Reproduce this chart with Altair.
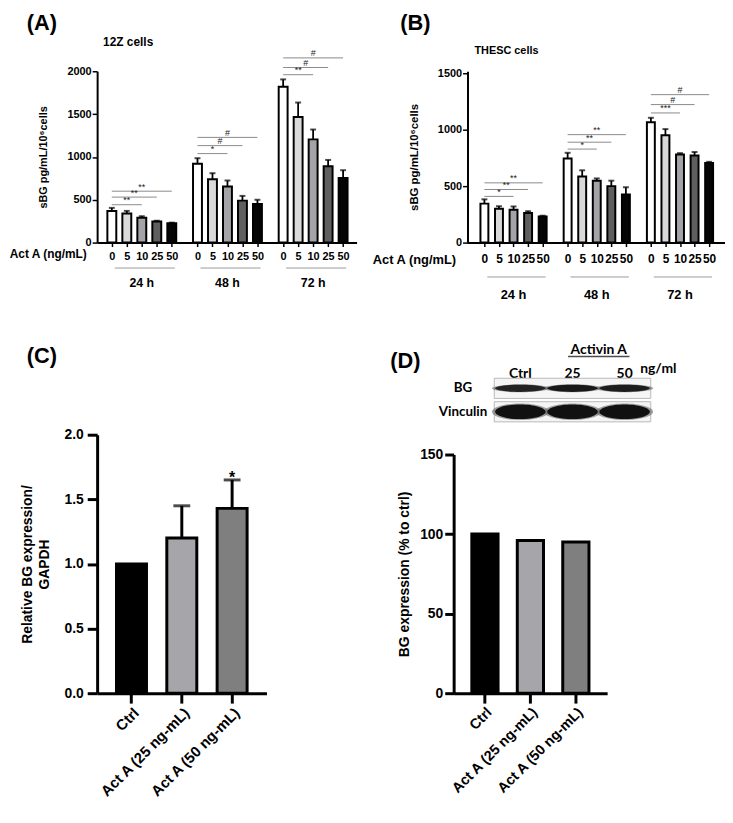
import altair as alt
import pandas as pd

# ---------------- values ----------------
doses = ["0", "5", "10", "25", "50"]
times = ["24 h", "48 h", "72 h"]
dose_fills = ["#ffffff", "#d9d9d9", "#a4a4a8", "#5f5f5f", "#050505"]

# (A) 12Z cells, sBG pg/mL/10^6 cells, 24 h / 48 h / 72 h x 5 doses
z12_mean = [370, 340, 290, 245, 225, 920, 740, 655, 490, 450, 1820, 1465, 1205, 890, 755]
z12_err = [35, 30, 18, 10, 8, 65, 70, 70, 55, 50, 85, 170, 115, 75, 90]
z12_sig_time = ["24 h"] * 3 + ["48 h"] * 3 + ["72 h"] * 3
z12_sig_to = ["10", "25", "50"] * 3
z12_sig_level = [442, 531, 600, 1039, 1132, 1228, 1960, 2044, 2156]
z12_sig_mark = ["**", "**", "**", "*", "#", "#", "**", "#", "#"]

# (B) THESC cells
thesc_mean = [345, 300, 290, 263, 232, 745, 585, 548, 500, 425, 1065, 950, 780, 772, 705]
thesc_err = [38, 22, 30, 15, 6, 50, 55, 20, 48, 65, 40, 55, 12, 30, 10]
thesc_sig_time = ["24 h"] * 3 + ["48 h"] * 3 + ["72 h"] * 3
thesc_sig_to = ["10", "25", "50"] * 3
thesc_sig_level = [409, 470, 529, 828, 889, 956, 1148, 1222, 1310]
thesc_sig_mark = ["*", "**", "**", "*", "**", "**", "***", "#", "#"]

# (C) relative BG expression / GAPDH
groups = ["Ctrl", "Act A (25 ng-mL)", "Act A (50 ng-mL)"]
group_fills = ["#000000", "#a6a6aa", "#7f7f7f"]
c_mean = [1.0, 1.2, 1.43]
c_err = [0.0, 0.25, 0.22]
c_sig = ["", "", "*"]

# (D) BG expression, % to ctrl
d_mean = [100, 96, 95]

# western blot (D, top)
lanes = ["Ctrl", "25", "50"]
proteins = ["BG", "Vinculin"]
blot_bg = [0.88, 0.95, 0.92]
blot_vinculin = [1.0, 1.0, 1.0]

FONT = "Liberation Sans"
BLOT_FONT = "Lato"
GAP = 5.715  # distance between time groups, in bar steps


def note(text, x, y, size, align="left", baseline="alphabetic", font=FONT):
    return alt.Chart(pd.DataFrame({"label": [text]})).mark_text(
        font=font, fontSize=size, fontWeight="bold", align=align,
        baseline=baseline, color="black",
    ).encode(text="label:N", x=alt.value(x), y=alt.value(y))


def time_panel(mean, err, sig_time, sig_to, sig_level, sig_mark, width, height, shift,
               xdom, ydom, yvals, bar_size, fs, pads, cells, letter):
    pos = {(t, d): round(g * GAP + i, 3)
           for g, t in enumerate(times) for i, d in enumerate(doses)}
    bars = pd.DataFrame({
        "time": [t for t in times for d in doses],
        "dose": [d for t in times for d in doses],
        "mean": mean,
        "err": err,
    })
    bars["pos"] = [pos[(t, d)] for t, d in zip(bars.time, bars.dose)]
    bars["hi"] = bars["mean"] + bars["err"]

    sig = pd.DataFrame({"time": sig_time, "to": sig_to, "level": sig_level, "mark": sig_mark})
    sig["x0"] = [pos[(t, "0")] for t in sig.time]
    sig["x1"] = [pos[(t, d)] for t, d in zip(sig.time, sig.to)]
    sig["xm"] = (sig.x0 + sig.x1) / 2

    grp = pd.DataFrame({"time": times})
    grp["x0"] = [pos[(t, "0")] + 0.2 for t in times]
    grp["x1"] = [pos[(t, "50")] + 0.2 for t in times]
    grp["xm"] = [pos[(t, "10")] for t in times]

    ticks = list(bars.pos)
    xaxis = alt.Axis(
        values=ticks, labelExpr=f"{doses * 3}[indexof({ticks}, datum.value)]",
        labelOverlap=False, labelFlush=False, labelFontSize=fs["dose"],
        labelBaseline="middle", labelPadding=pads["dose"],
        tickSize=4, tickWidth=1.5, domainWidth=2,
        title="Act A (ng/mL)", titleFontSize=fs["act"], titleAlign="right",
        titleBaseline="middle", titleX=pads["act_x"] + shift, titleY=pads["act_y"],
    )
    yaxis = alt.Axis(
        values=yvals, format="d", labelFontSize=fs["ylab"], labelPadding=1, tickSize=5,
        tickWidth=1.5, domainWidth=2, title="sBG pg/mL/10⁶cells", offset=-shift,
        titleFontSize=fs["ytitle"], titlePadding=pads["ytitle"],
    )
    xs = alt.Scale(domain=xdom, nice=False, zero=False, range=[shift, shift + width])
    ys = alt.Scale(domain=ydom, nice=False)

    def X(f):
        return alt.X(f, scale=xs, axis=xaxis)

    def Y(f):
        return alt.Y(f, scale=ys, axis=yaxis)

    base = alt.Chart(bars)
    err_line = base.mark_rule(color="black", strokeWidth=1.8).encode(
        x=X("pos:Q"), y=Y("mean:Q"), y2="hi:Q")
    err_cap = base.mark_tick(orient="horizontal", size=6, thickness=2, color="black").encode(
        x=X("pos:Q"), y=Y("hi:Q"))
    bar = base.mark_bar(orient="vertical", size=bar_size, stroke="black", strokeWidth=2).encode(
        x=X("pos:Q"), y=Y("mean:Q"),
        fill=alt.Fill("dose:N", scale=alt.Scale(domain=doses, range=dose_fills), legend=None))
    sig_line = alt.Chart(sig).mark_rule(color="#8a8a8a", strokeWidth=1).encode(
        x=X("x0:Q"), x2="x1:Q", y=Y("level:Q"))
    sig_text = alt.Chart(sig).mark_text(
        font=FONT, fontSize=fs["sig"], color="#222222", baseline="alphabetic", dy=-1.5
    ).encode(x=X("xm:Q"), y=Y("level:Q"), text="mark:N")
    grp_line = alt.Chart(grp).mark_rule(color="#9a9a9a", strokeWidth=1).encode(
        x=X("x0:Q"), x2="x1:Q", y=alt.value(height + pads["grp_line"]))
    grp_text = alt.Chart(grp).mark_text(
        font=FONT, fontSize=fs["grp"], fontWeight="bold", baseline="middle", color="black"
    ).encode(x=X("xm:Q"), y=alt.value(height + pads["grp_text"]), text="time:N")

    return alt.layer(
        err_line, err_cap, bar, sig_line, sig_text, grp_line, grp_text,
        note(letter[0], letter[1] + shift, letter[2], 22),
        note(cells[0], cells[1] + shift, cells[2], cells[3], baseline="middle"),
    ).properties(width=width + shift, height=height)


panel_a = time_panel(
    z12_mean, z12_err, z12_sig_time, z12_sig_to, z12_sig_level, z12_sig_mark,
    width=262, height=173, shift=0, xdom=[-0.65, 16.0], ydom=[0, 2000],
    yvals=[0, 500, 1000, 1500, 2000], bar_size=9,
    fs=dict(ylab=11, ytitle=11, dose=11, act=12, grp=12.5, sig=9),
    pads=dict(dose=10.5, act_x=-11, act_y=10.7, grp_line=25.7, grp_text=40.7, ytitle=19),
    cells=("12Z cells", 6, -30, 12), letter=("(A)", -71, -42),
)

# (B) sits in the same grid column as (D), whose axis is further left
panel_b = time_panel(
    thesc_mean, thesc_err, thesc_sig_time, thesc_sig_to, thesc_sig_level, thesc_sig_mark,
    width=260, height=173, shift=14, xdom=[-0.82, 16.18], ydom=[0, 1517],
    yvals=[0, 500, 1000, 1500], bar_size=8,
    fs=dict(ylab=11, ytitle=11.5, dose=12, act=13, grp=13, sig=9),
    pads=dict(dose=12.3, act_x=-12, act_y=17.3, grp_line=34.7, grp_text=53.3, ytitle=18),
    cells=("THESC cells", 7, -20, 11), letter=("(B)", -68, -41.5),
)


# ---------------- (C) ----------------
def group_axis(size):
    return alt.Axis(labelAngle=-45, labelFontSize=size, tickSize=10, tickWidth=3,
                    domainWidth=3, labelPadding=2, title=None)


cdf = pd.DataFrame({"group": groups, "mean": c_mean, "err": c_err, "sig": c_sig})
cdf["hi"] = cdf["mean"] + cdf["err"]

xc = alt.X("group:N", sort=groups, scale=alt.Scale(paddingInner=0.404, paddingOuter=0.385),
           axis=group_axis(15))
ycs = alt.Scale(domain=[0, 2], nice=False)
yca = alt.Axis(values=[0, 0.5, 1, 1.5, 2], format=".1f", labelFontSize=14, tickSize=10,
               tickWidth=3, domainWidth=3, labelPadding=4,
               title=["Relative BG expression/", "GAPDH"], titleFontSize=14,
               titleLineHeight=17, titlePadding=13)

cbase = alt.Chart(cdf)
c_err_line = cbase.transform_filter("datum.err > 0").mark_rule(color="black", strokeWidth=3).encode(
    x=xc, y=alt.Y("mean:Q", scale=ycs, axis=yca), y2="hi:Q")
c_err_cap = cbase.transform_filter("datum.err > 0").mark_tick(
    orient="horizontal", size=17, thickness=3, color="black").encode(
    x=xc, y=alt.Y("hi:Q", scale=ycs, axis=yca))
c_bar = cbase.mark_bar(stroke="black", strokeWidth=3).encode(
    x=xc, y=alt.Y("mean:Q", scale=ycs, axis=yca),
    fill=alt.Fill("group:N", scale=alt.Scale(domain=groups, range=group_fills), legend=None))
c_star = cbase.mark_text(font=FONT, fontSize=16, fontWeight="bold", baseline="alphabetic",
                         dy=3, color="black").encode(
    x=xc, y=alt.Y("hi:Q", scale=ycs, axis=yca), text="sig:N")

panel_c = alt.layer(c_err_line, c_err_cap, c_bar, c_star, note("(C)", -71, -72, 22)).properties(
    width=171, height=261)

# ---------------- (D) ----------------
ddf = pd.DataFrame({"group": groups, "mean": d_mean})
xd = alt.X("group:N", sort=groups, scale=alt.Scale(paddingInner=0.423, paddingOuter=0.4),
           axis=group_axis(14.5))
yd = alt.Y("mean:Q", scale=alt.Scale(domain=[0, 150], nice=False, range=[261, 20]),
           axis=alt.Axis(values=[0, 50, 100, 150], labelFontSize=14, tickSize=9, tickWidth=3,
                         domainWidth=3, labelPadding=2, title="BG expression (% to ctrl)",
                         titleFontSize=14, titlePadding=8))
d_bar = alt.Chart(ddf).mark_bar(stroke="black", strokeWidth=3).encode(
    x=xd, y=yd,
    fill=alt.Fill("group:N", scale=alt.Scale(domain=groups, range=group_fills), legend=None))
d_bars = alt.layer(d_bar, note("(D)", -64, -67, 22))

# western blot above (D)
blot_y = alt.Scale(domain=proteins, range=[-57, -13], paddingInner=0.14, paddingOuter=0)
blot_axis = alt.Axis(orient="left", title=None, ticks=False, domain=False, offset=-41,
                     labelPadding=32, labelAlign="center", labelBaseline="middle",
                     labelFont=BLOT_FONT, labelFontSize=13.5, labelFontWeight="bold")
lane_x = alt.Scale(domain=lanes, range=[41, 199], paddingInner=0, paddingOuter=0)
lane_axis = alt.Axis(orient="top", title=None, ticks=False, domain=False, offset=54,
                     labelPadding=1, labelAngle=0, labelFont=BLOT_FONT, labelFontSize=14,
                     labelFontWeight="bold")
by = alt.Y("protein:N", sort=proteins, scale=blot_y, axis=blot_axis)

frame = alt.Chart(pd.DataFrame({"membrane": ["blot", "blot"], "protein": proteins})).mark_rect(
    fill="#f5f5f5", stroke="#b8b8b8", strokeWidth=1).encode(
    x=alt.X("membrane:N", scale=alt.Scale(range=[41, 199], paddingInner=0, paddingOuter=0),
            axis=None),
    y=by)

bands = pd.DataFrame({
    "lane": lanes * 2,
    "protein": ["BG"] * 3 + ["Vinculin"] * 3,
    "intensity": blot_bg + blot_vinculin,
})
band_shape = alt.Shape("protein:N", legend=None, scale=alt.Scale(
    domain=proteins,
    range=["M-1,0 A1,0.14 0 1,1 1,0 A1,0.14 0 1,1 -1,0 Z",
           "M-1,0 A1,0.29 0 1,1 1,0 A1,0.29 0 1,1 -1,0 Z"]))
bx = alt.X("lane:N", sort=lanes, scale=lane_x, axis=lane_axis)

halo = alt.Chart(bands).mark_point(filled=True, size=3300, color="#5a5a5a", opacity=0.55).encode(
    x=bx, y=by, shape=band_shape)
core = alt.Chart(bands).mark_point(filled=True, size=2600, color="#111111").encode(
    x=bx, y=by, shape=band_shape, opacity=alt.Opacity("intensity:Q", scale=None, legend=None))
activin = alt.Chart(pd.DataFrame({"label": ["Activin A"]})).mark_text(
    font=BLOT_FONT, fontSize=14, fontWeight="bold", baseline="alphabetic", dx=26.5).encode(
    x=alt.X(datum="25", scale=lane_x, axis=lane_axis), y=alt.value(-82), text="label:N")
underline = alt.Chart(pd.DataFrame({"label": ["Activin A"]})).mark_tick(
    orient="horizontal", size=62, thickness=1.5, color="black", xOffset=26.5).encode(
    x=alt.X(datum="25", scale=lane_x, axis=lane_axis), y=alt.value(-79))
ngml = alt.Chart(pd.DataFrame({"label": ["ng/ml"]})).mark_text(
    font=BLOT_FONT, fontSize=14, fontWeight="bold", baseline="alphabetic", dx=34).encode(
    x=alt.X(datum="50", scale=lane_x, axis=lane_axis), y=alt.value(-62), text="label:N")

lane_layer = alt.layer(halo, core, activin, underline, ngml)
blot = alt.layer(frame, lane_layer).resolve_scale(x="independent")

panel_d = alt.layer(d_bars, blot).resolve_scale(x="independent", y="independent").properties(
    width=155, height=261)

# ---------------- layout ----------------
chart = alt.concat(
    panel_a, panel_b, panel_c, panel_d,
    columns=2, bounds="flush", spacing={"row": 194, "column": 98},
).resolve_scale(
    fill="independent", shape="independent", opacity="independent"
).configure_view(
    stroke=None
).configure_axis(
    grid=False, labelFont=FONT, titleFont=FONT, labelFontWeight="bold",
    titleFontWeight="bold", labelColor="black", titleColor="black",
    domainColor="black", tickColor="black",
).properties(padding=0, background="white")

chart.save("out.html", embed_options={"renderer": "svg", "actions": False})
